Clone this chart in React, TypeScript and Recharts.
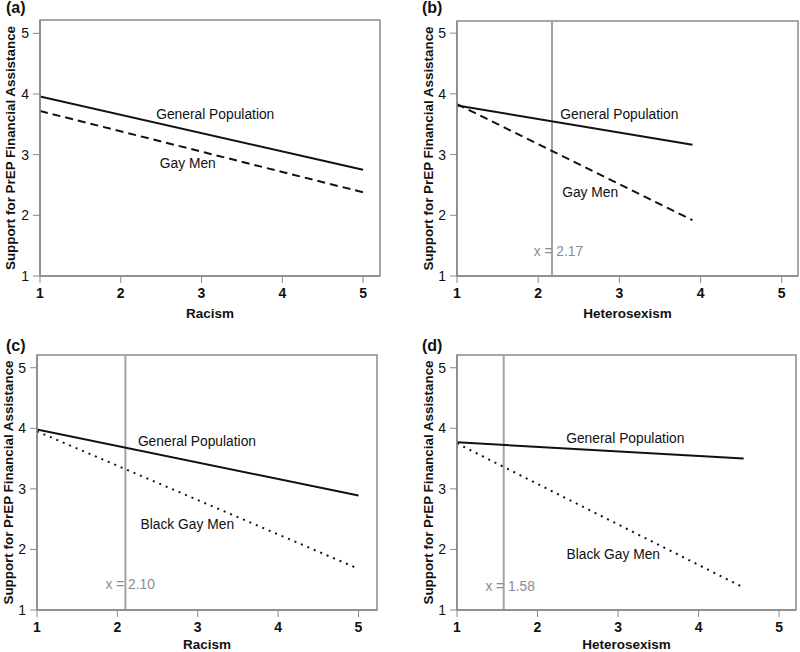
import {
  LineChart,
  Line,
  XAxis,
  YAxis,
  ReferenceArea,
  ReferenceLine,
  ReferenceDot,
} from 'recharts';

// x values (moderator levels) for each panel
const racismX = [1, 5];
const heteroXB = [1, 3.9];
const heteroXD = [1, 4.56];

// predicted support, panel (a)
const generalA = [3.96, 2.75];
const gayMenA = [3.72, 2.38];
// panel (b)
const generalB = [3.81, 3.16];
const gayMenB = [3.83, 1.92];
// panel (c)
const generalC = [3.98, 2.89];
const blackGayMenC = [3.95, 1.68];
// panel (d)
const generalD = [3.77, 3.5];
const blackGayMenD = [3.75, 1.37];

const axisTicks = [1, 2, 3, 4, 5];
const thresholdB = 2.17;
const thresholdC = 2.1;
const thresholdD = 1.58;

const font = '"Liberation Sans", Arial, sans-serif';
const frameColor = '#8a8a8a';
const ink = '#111';

const toRows = (xs: number[], general: number[], group: number[]) =>
  xs.map((x, i) => ({ x, general: general[i], group: group[i] }));

type Note = { text: string; x: number; y: number; color?: string };

type PanelProps = {
  tag: string;
  left: number;
  top: number;
  xTitle: string;
  xTitleOffset: number;
  rows: { x: number; general: number; group: number }[];
  dash: string;
  threshold?: number;
  margin: { top: number; right: number; bottom: number };
  yWidth: number;
  yTitleDx: number;
  xMax: number;
  yMax: number;
  notes: Note[];
};

function Panel(p: PanelProps) {
  const leftCol = p.tag === '(a)' || p.tag === '(c)';
  const topRow = p.tag === '(a)' || p.tag === '(b)';
  return (
    <div style={{ position: 'absolute', left: p.left, top: p.top, width: 400, height: 326 }}>
      <LineChart
        width={400}
        height={326}
        data={p.rows}
        margin={{ top: p.margin.top, right: p.margin.right, bottom: p.margin.bottom, left: 0 }}
        style={{ fontFamily: font }}
      >
        <XAxis
          type='number'
          dataKey='x'
          domain={[1, p.xMax]}
          ticks={axisTicks}
          allowDataOverflow
          height={30}
          tickSize={7}
          tickMargin={5}
          stroke={frameColor}
          axisLine={{ stroke: frameColor, strokeWidth: 1.5 }}
          tick={{ fill: ink, fontSize: 14, fontWeight: 'bold' }}
          label={{
            value: p.xTitle,
            position: 'insideTop',
            offset: p.xTitleOffset,
            fill: ink,
            fontSize: 13.5,
            fontWeight: 'bold',
          }}
        />
        <YAxis
          type='number'
          domain={[1, p.yMax]}
          ticks={axisTicks}
          allowDataOverflow
          width={p.yWidth}
          tickSize={7}
          tickMargin={4}
          stroke={frameColor}
          axisLine={{ stroke: frameColor, strokeWidth: 1.5 }}
          tick={{ fill: ink, fontSize: 14 }}
          label={{
            value: 'Support for PrEP Financial Assistance',
            angle: -90,
            position: 'center',
            dx: p.yTitleDx,
            fill: ink,
            fontSize: 13.4,
            fontWeight: 'bold',
          }}
        />
        <ReferenceArea
          x1={1}
          x2={p.xMax}
          y1={1}
          y2={p.yMax}
          fill='none'
          stroke={frameColor}
          strokeWidth={1.5}
        />
        {p.threshold !== undefined && (
          <ReferenceLine x={p.threshold} stroke='#a3a3a3' strokeWidth={2} />
        )}
        <Line
          type='linear'
          dataKey='general'
          stroke={ink}
          strokeWidth={2}
          dot={false}
          isAnimationActive={false}
        />
        <Line
          type='linear'
          dataKey='group'
          stroke={ink}
          strokeWidth={2}
          strokeDasharray={p.dash}
          dot={false}
          isAnimationActive={false}
        />
        {p.notes.map((n) => (
          <ReferenceDot
            key={n.text}
            x={n.x}
            y={n.y}
            r={0}
            fill='none'
            stroke='none'
            label={{
              value: n.text,
              position: 'center',
              fill: n.color ?? ink,
              fontSize: 13.8,
            }}
          />
        ))}
      </LineChart>
      <div
        style={{
          position: 'absolute',
          left: leftCol ? 6 : 22,
          top: topRow ? 0 : 12,
          fontFamily: font,
          fontWeight: 'bold',
          fontSize: 16,
          lineHeight: '16px',
          color: ink,
        }}
      >
        {p.tag}
      </div>
    </div>
  );
}

export default function App() {
  return (
    <div
      style={{
        position: 'absolute',
        left: 0,
        top: 0,
        width: 800,
        height: 652,
        background: '#fff',
        overflow: 'hidden',
      }}
    >
      <Panel
        tag='(a)'
        left={0}
        top={0}
        xTitle='Racism'
        xTitleOffset={32}
        rows={toRows(racismX, generalA, gayMenA)}
        dash='8 5'
        margin={{ top: 20, right: 20, bottom: 20 }}
        yWidth={40}
        yTitleDx={-10}
        xMax={5.21}
        yMax={5.22}
        notes={[
          { text: 'General Population', x: 3.17, y: 3.67 },
          { text: 'Gay Men', x: 2.83, y: 2.86 },
        ]}
      />
      <Panel
        tag='(b)'
        left={400}
        top={0}
        xTitle='Heterosexism'
        xTitleOffset={32}
        rows={toRows(heteroXB, generalB, gayMenB)}
        dash='8 5'
        threshold={thresholdB}
        margin={{ top: 21, right: 2, bottom: 20 }}
        yWidth={57}
        yTitleDx={0}
        xMax={5.2}
        yMax={5.2}
        notes={[
          { text: 'General Population', x: 3.0, y: 3.66 },
          { text: 'Gay Men', x: 2.64, y: 2.39 },
          { text: 'x = 2.17', x: 2.25, y: 1.41, color: '#8c8c8c' },
        ]}
      />
      <Panel
        tag='(c)'
        left={0}
        top={326}
        xTitle='Racism'
        xTitleOffset={29}
        rows={toRows(racismX, generalC, blackGayMenC)}
        dash='2 5'
        threshold={thresholdC}
        margin={{ top: 29, right: 23, bottom: 12 }}
        yWidth={37}
        yTitleDx={-10}
        xMax={5.23}
        yMax={5.21}
        notes={[
          { text: 'General Population', x: 2.99, y: 3.79 },
          { text: 'Black Gay Men', x: 2.87, y: 2.42 },
          { text: 'x = 2.10', x: 2.16, y: 1.43, color: '#8c8c8c' },
        ]}
      />
      <Panel
        tag='(d)'
        left={400}
        top={326}
        xTitle='Heterosexism'
        xTitleOffset={29}
        rows={toRows(heteroXD, generalD, blackGayMenD)}
        dash='2 5'
        threshold={thresholdD}
        margin={{ top: 29, right: 4, bottom: 12 }}
        yWidth={57}
        yTitleDx={0}
        xMax={5.21}
        yMax={5.21}
        notes={[
          { text: 'General Population', x: 3.09, y: 3.84 },
          { text: 'Black Gay Men', x: 2.94, y: 1.92 },
          { text: 'x = 1.58', x: 1.66, y: 1.4, color: '#8c8c8c' },
        ]}
      />
    </div>
  );
}
